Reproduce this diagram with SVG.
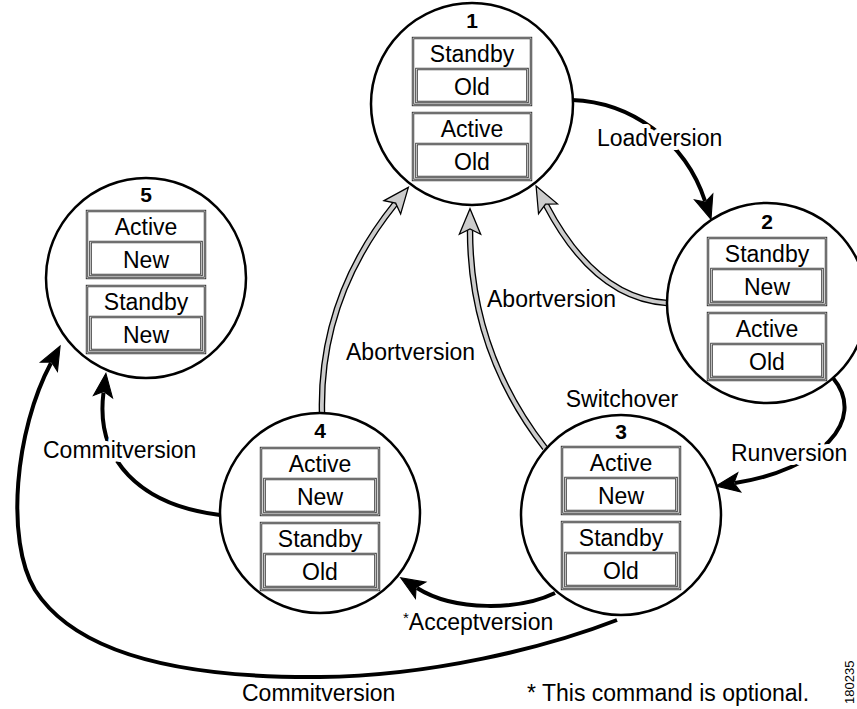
<svg xmlns="http://www.w3.org/2000/svg" width="857" height="709" viewBox="0 0 857 709">
<style>
text{font-family:"Liberation Sans",Arial,sans-serif;font-size:23px;fill:#000}
.num{font-weight:bold;font-size:21px;text-anchor:middle}
.c{text-anchor:middle}
.ring{fill:#fff;stroke:#000;stroke-width:2.5}
.box{fill:#fff;stroke:#222;stroke-width:2.4}
.gap{fill:none;stroke:#fff;stroke-width:0.7}
.blk{fill:none;stroke:#000;stroke-width:4}
.gout{fill:none;stroke:#000;stroke-width:6.5}
.gin{fill:none;stroke:#ccc;stroke-width:3.8}
.lbl{stroke:#fff;stroke-width:8;paint-order:stroke;stroke-linejoin:round}
</style>
<defs>
<marker id="ab" markerUnits="userSpaceOnUse" markerWidth="30" markerHeight="30" viewBox="-2 -12 28 24" refX="4" refY="0" orient="auto" overflow="visible">
<path d="M0,-9 L22,0 L0,9 L5,0 Z" fill="#000" stroke="#000" stroke-width="1" stroke-linejoin="miter"/>
</marker>
<marker id="ag" markerUnits="userSpaceOnUse" markerWidth="32" markerHeight="32" viewBox="-2 -12 30 24" refX="4" refY="0" orient="auto" overflow="visible">
<path d="M0,-10 L24,0 L0,10 L5,0 Z" fill="#ccc" stroke="#000" stroke-width="1.2" stroke-linejoin="miter"/>
</marker>
</defs>

<g id="connectors">
<path class="gout" d="M667,303 C620,300 580,270 546,205"/>
<path class="gin" d="M667,303 C620,300 580,270 546,205" marker-end="url(#ag)"/>
<path class="gout" d="M545,448 C500,390 470,320 470,230"/>
<path class="gin" d="M545,448 C500,390 470,320 470,230" marker-end="url(#ag)"/>
<path class="gout" d="M322,413 C320,330 350,260 395,204"/>
<path class="gin" d="M322,413 C320,330 350,260 395,204" marker-end="url(#ag)"/>
<path class="blk" d="M572,100 C630,102 685,140 705,201" marker-end="url(#ab)"/>
<path class="blk" d="M833,378 C868,420 820,470 735,483" marker-end="url(#ab)"/>
<path class="blk" d="M555,593 C520,610 455,612 417,588" marker-end="url(#ab)"/>
<path class="blk" d="M220,515 C140,505 95,460 103.5,392.5" marker-end="url(#ab)"/>
<path class="blk" d="M617,620 C545,648 430,676 320,677 C200,678 80,660 35,590 C5,540 15,430 51,363" marker-end="url(#ab)"/>
<text class="lbl" x="597" y="146">Loadversion</text>
<text class="lbl" x="731" y="461">Runversion</text>
<text class="lbl" x="43" y="458">Commitversion</text>
<text x="487" y="307">Abortversion</text>
<text x="346" y="360">Abortversion</text>
<text class="c" x="622" y="407">Switchover</text>
<text x="403" y="630"><tspan font-size="15" dy="-7">*</tspan><tspan dy="7">Acceptversion</tspan></text>
<text x="242" y="701">Commitversion</text>
</g>

<g id="node1">
<circle class="ring" cx="472" cy="104" r="101"/>
<text class="num" x="472" y="28">1</text>
<rect class="box" x="413" y="38" width="118" height="67"/><rect class="gap" x="413" y="38" width="118" height="67"/>
<rect class="box" x="416.5" y="69" width="111" height="33"/><rect class="gap" x="416.5" y="69" width="111" height="33"/>
<text class="c" x="472" y="62">Standby</text><text class="c" x="472" y="95">Old</text>
<rect class="box" x="413" y="113" width="118" height="67"/><rect class="gap" x="413" y="113" width="118" height="67"/>
<rect class="box" x="416.5" y="144" width="111" height="33"/><rect class="gap" x="416.5" y="144" width="111" height="33"/>
<text class="c" x="472" y="137">Active</text><text class="c" x="472" y="170">Old</text>
</g>

<g id="node2">
<circle class="ring" cx="767" cy="303" r="100"/>
<text class="num" x="767" y="229">2</text>
<rect class="box" x="708" y="238" width="118" height="67"/><rect class="gap" x="708" y="238" width="118" height="67"/>
<rect class="box" x="711.5" y="269" width="111" height="33"/><rect class="gap" x="711.5" y="269" width="111" height="33"/>
<text class="c" x="767" y="262">Standby</text><text class="c" x="767" y="295">New</text>
<rect class="box" x="708" y="313" width="118" height="67"/><rect class="gap" x="708" y="313" width="118" height="67"/>
<rect class="box" x="711.5" y="344" width="111" height="33"/><rect class="gap" x="711.5" y="344" width="111" height="33"/>
<text class="c" x="767" y="337">Active</text><text class="c" x="767" y="370">Old</text>
</g>

<g id="node3">
<circle class="ring" cx="621" cy="515" r="100"/>
<text class="num" x="621" y="439">3</text>
<rect class="box" x="562" y="447" width="118" height="67"/><rect class="gap" x="562" y="447" width="118" height="67"/>
<rect class="box" x="565.5" y="478" width="111" height="33"/><rect class="gap" x="565.5" y="478" width="111" height="33"/>
<text class="c" x="621" y="471">Active</text><text class="c" x="621" y="504">New</text>
<rect class="box" x="562" y="522" width="118" height="67"/><rect class="gap" x="562" y="522" width="118" height="67"/>
<rect class="box" x="565.5" y="553" width="111" height="33"/><rect class="gap" x="565.5" y="553" width="111" height="33"/>
<text class="c" x="621" y="546">Standby</text><text class="c" x="621" y="579">Old</text>
</g>

<g id="node4">
<circle class="ring" cx="320" cy="513" r="100"/>
<text class="num" x="320" y="438">4</text>
<rect class="box" x="261" y="448" width="118" height="67"/><rect class="gap" x="261" y="448" width="118" height="67"/>
<rect class="box" x="264.5" y="479" width="111" height="33"/><rect class="gap" x="264.5" y="479" width="111" height="33"/>
<text class="c" x="320" y="472">Active</text><text class="c" x="320" y="505">New</text>
<rect class="box" x="261" y="523" width="118" height="67"/><rect class="gap" x="261" y="523" width="118" height="67"/>
<rect class="box" x="264.5" y="554" width="111" height="33"/><rect class="gap" x="264.5" y="554" width="111" height="33"/>
<text class="c" x="320" y="547">Standby</text><text class="c" x="320" y="580">Old</text>
</g>

<g id="node5">
<circle class="ring" cx="146" cy="278" r="100"/>
<text class="num" x="146" y="202">5</text>
<rect class="box" x="87" y="211" width="118" height="67"/><rect class="gap" x="87" y="211" width="118" height="67"/>
<rect class="box" x="90.5" y="242" width="111" height="33"/><rect class="gap" x="90.5" y="242" width="111" height="33"/>
<text class="c" x="146" y="235">Active</text><text class="c" x="146" y="268">New</text>
<rect class="box" x="87" y="286" width="118" height="67"/><rect class="gap" x="87" y="286" width="118" height="67"/>
<rect class="box" x="90.5" y="317" width="111" height="33"/><rect class="gap" x="90.5" y="317" width="111" height="33"/>
<text class="c" x="146" y="310">Standby</text><text class="c" x="146" y="343">New</text>
</g>

<text x="527" y="701">* This command is optional.</text>
<text transform="translate(854,704) rotate(-90)" style="font-size:13px">180235</text>
</svg>
